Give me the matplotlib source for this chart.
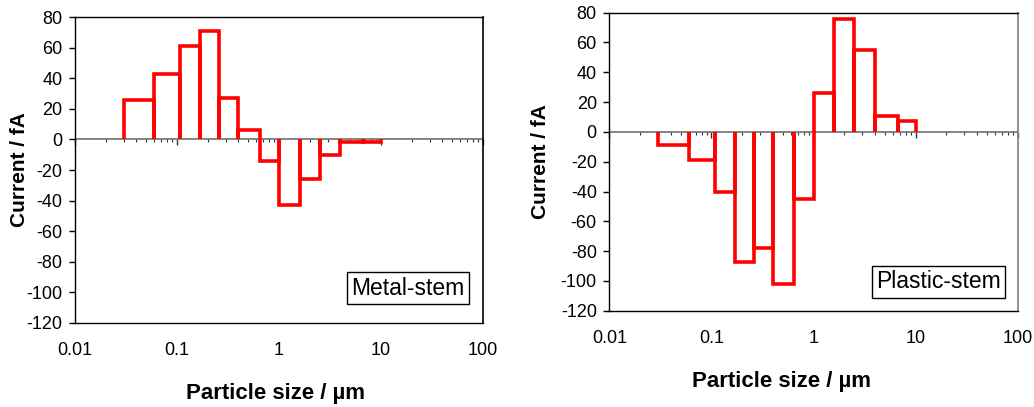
import matplotlib.pyplot as plt
from matplotlib.ticker import NullFormatter, FixedLocator, FixedFormatter

plt.rcParams['font.family'] = ['Liberation Sans', 'DejaVu Sans']
plt.rcParams['axes.unicode_minus'] = False

# ELPI-like stage boundaries (um), shared by both panels
edges = [0.030, 0.060, 0.108, 0.17, 0.26, 0.40, 0.65, 1.0, 1.6, 2.5, 4.0, 6.7, 10.0]
metal_current = [26, 43, 61, 71, 27, 6, -14, -43, -26, -10, -2, -2]
plastic_current = [-9, -19, -40, -87, -78, -102, -45, 26, 76, 55, 11, 7]

x_ticks = [0.01, 0.1, 1, 10, 100]
x_ticklabels = ['0.01', '0.1', '1', '10', '100']
y_ticks = list(range(-120, 81, 20))


def draw_panel(ax, values, label, box_xy, right_col):
    ax.set_xscale('log')
    ax.set_xlim(0.01, 100)
    ax.set_ylim(-120, 80)

    # zero line with log ticks hanging below it
    ax.axhline(0, color='#707070', lw=1.2, zorder=1)
    sec = ax.secondary_xaxis(0.6)
    sec.set_alignment('bottom')
    sec.spines['bottom'].set_visible(False)
    sec.spines['top'].set_visible(False)
    sec.tick_params(which='both', bottom=True, top=False, direction='out')
    sec.tick_params(which='major', length=4, width=1, color='#333333')
    sec.tick_params(which='minor', length=2.5, width=0.8, color='#333333')
    sec.xaxis.set_major_formatter(NullFormatter())
    sec.xaxis.set_minor_formatter(NullFormatter())

    # one open bar per stage, sides down to zero
    for i, v in enumerate(values):
        lo, hi = edges[i], edges[i + 1]
        ax.plot([lo, lo, hi, hi], [0, v, v, 0], color='#ff0000', lw=2.6,
                solid_joinstyle='miter', solid_capstyle='butt', zorder=3)

    ax.xaxis.set_major_locator(FixedLocator(x_ticks))
    ax.xaxis.set_major_formatter(FixedFormatter(x_ticklabels))
    ax.xaxis.set_minor_locator(FixedLocator([]))
    ax.tick_params(axis='x', length=0, pad=14, labelsize=13)
    ax.set_yticks(y_ticks)
    ax.tick_params(axis='y', length=4, width=1, pad=5, labelsize=13, direction='out')

    for s in ['left', 'bottom', 'top']:
        ax.spines[s].set_color('black')
        ax.spines[s].set_linewidth(1)
    ax.spines['right'].set_color(right_col)
    ax.spines['right'].set_linewidth(1.2)

    ax.text(box_xy[0], box_xy[1], label, transform=ax.transAxes, fontsize=16.5,
            ha='center', va='center',
            bbox=dict(boxstyle='square,pad=0.2', fc='white', ec='black', lw=1))


fig = plt.figure(figsize=(10.34, 4.07), dpi=100)
ax1 = fig.add_axes([0.0725, 0.2064, 0.3946, 0.7518])
ax2 = fig.add_axes([0.5893, 0.2366, 0.3950, 0.7322])

draw_panel(ax1, metal_current, 'Metal-stem', (0.816, 0.114), 'black')
draw_panel(ax2, plastic_current, 'Plastic-stem', (0.806, 0.097), '#808080')

fig.text(20 / 1034, 1 - 170 / 407, 'Current / fA', rotation=90, fontsize=15,
         fontweight='bold', ha='center', va='center')
fig.text(541 / 1034, 1 - 162 / 407, 'Current / fA', rotation=90, fontsize=15,
         fontweight='bold', ha='center', va='center')
fig.text(275 / 1034, 1 - 393 / 407, 'Particle size / µm', fontsize=16,
         fontweight='bold', ha='center', va='center')
fig.text(782 / 1034, 1 - 382 / 407, 'Particle size / µm', fontsize=16,
         fontweight='bold', ha='center', va='center')

fig.savefig('out.png', dpi=100)
